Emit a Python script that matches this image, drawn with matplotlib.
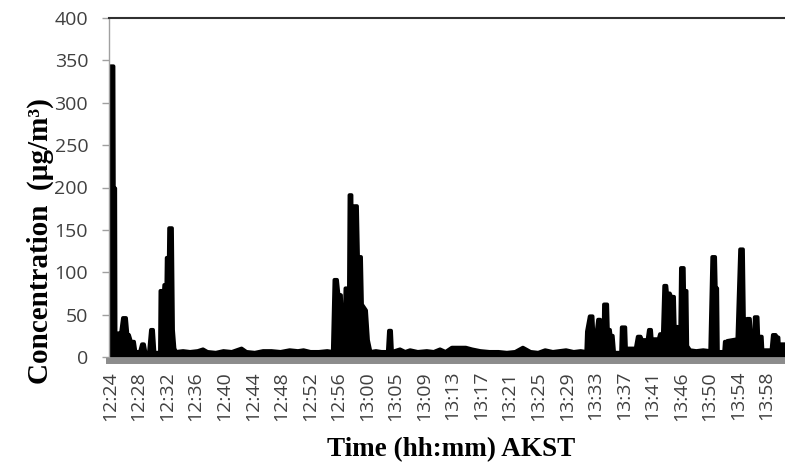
import matplotlib
matplotlib.use("Agg")
import matplotlib.pyplot as plt

# minutes after 12:24 AKST
time_min = [
    -0.07, 0.07, 0.5, 0.55, 0.75, 0.8, 1.0, 1.22, 1.58, 1.87,
    2.3, 2.51, 2.73, 3.02, 3.45, 3.66, 4.31, 4.6, 4.88, 5.1,
    5.6, 5.89, 6.18, 6.39, 7.18, 7.25, 7.75, 7.8, 8.1, 8.15,
    8.45, 8.5, 8.9,
    9.05, 9.26, 9.48,
    10.5, 11.5, 12.6, 13.36, 14.0, 15.2, 16.3, 17.5, 18.9, 19.6,
    20.8, 22.0, 23.2, 24.5, 25.8, 27.0, 27.8, 28.8, 30.0, 31.2, 32.0,
    32.24, 32.6, 32.82, 33.17, 33.32, 33.68, 33.82, 34.32, 34.4, 34.68,
    34.75, 35.04, 35.11, 35.47, 35.62, 36.05, 36.19, 36.77, 37.05, 37.41,
    38.2, 39.0, 39.9, 40.07, 40.36, 40.5,
    41.65, 42.4, 43.1, 44.2, 45.5, 46.5, 47.4, 48.2, 49.1, 50.0,
    51.1, 52.0, 53.2, 54.5, 55.8, 57.0, 58.2, 59.3, 60.4, 61.5,
    62.5, 63.6, 64.6, 65.5, 66.6, 67.6, 68.4,
    68.5, 68.9, 69.3, 69.4, 69.9, 70.1, 70.4, 70.5, 70.9, 70.95,
    71.4, 71.5, 71.8, 71.9, 72.2, 72.4, 73.4, 73.5, 74.0, 74.1,
    75.5, 75.8, 76.2, 76.4, 77.2, 77.4, 77.7, 77.8, 78.8, 78.99,
    79.4, 79.6, 79.9, 80.0, 80.4, 80.6, 81.0, 81.1, 81.9, 82.0,
    82.4, 82.45, 82.8, 82.9, 83.3, 84.2, 85.2, 86.2, 86.5, 86.9,
    87.0, 87.2, 87.3, 88.2, 88.3, 88.6, 88.7, 90.1, 90.5, 90.9,
    91.1, 91.5, 91.9, 92.1, 92.5, 92.6, 93.0, 93.1, 93.6, 93.7,
    95.0, 95.2, 95.6, 95.8, 96.0, 96.05, 96.94,
]

concentration = [
    73, 343, 343, 199, 199, 16, 16, 28, 28, 46,
    46, 26, 26, 18, 18, 6, 6, 15, 15, 5,
    5, 32, 32, 5, 5, 78, 78, 85, 85, 117,
    117, 152, 152,
    32, 10, 6,
    7, 6, 7, 9, 6, 5, 7, 6, 10, 6,
    5, 7, 7, 6, 8, 7, 8, 6, 6, 7, 6,
    91, 91, 73, 73, 34, 34, 81, 81, 191, 191,
    80, 80, 178, 178, 118, 118, 62, 55, 20, 6,
    7, 6, 6, 31, 31, 6,
    9, 6, 8, 6, 7, 6, 9, 6, 11, 11,
    11, 9, 7, 6, 6, 5, 6, 11, 6, 5,
    8, 6, 7, 8, 6, 7, 6,
    30, 48, 48, 30, 30, 44, 44, 32, 32, 62,
    62, 32, 32, 25, 25, 5, 5, 35, 35, 10,
    10, 24, 24, 20, 20, 32, 32, 21, 21, 27,
    27, 84, 84, 75, 75, 71, 71, 36, 35, 105,
    105, 78, 78, 13, 8, 7, 8, 7, 118, 118,
    81, 81, 6, 6, 18, 18, 19, 21, 127, 127,
    10, 45, 45, 18, 18, 47, 47, 24, 24, 8,
    8, 26, 26, 23, 23, 15, 15,
]
assert len(time_min) == len(concentration)

tick_labels = ["12:24", "12:28", "12:32", "12:36", "12:40", "12:44", "12:48",
               "12:52", "12:56", "13:00", "13:05", "13:09", "13:13", "13:17",
               "13:21", "13:25", "13:29", "13:33", "13:37", "13:41", "13:46",
               "13:50", "13:54", "13:58"]
tick_step_min = 4.1  # 246 s between labelled categories

y_ticks = [0, 50, 100, 150, 200, 250, 300, 350, 400]

fig = plt.figure(figsize=(7.85, 4.67), dpi=100)
ax = fig.add_axes([109 / 785, 110 / 467, 676 / 785, 339 / 467])

ax.fill_between(time_min, concentration, 0, color="black", linewidth=0)
ax.plot(time_min, concentration, color="black", lw=2.8,
        solid_joinstyle="round", solid_capstyle="round")

ax.set_xlim(-0.14, 96.94)
ax.set_ylim(0, 400)

ax.tick_params(axis="x", length=0, pad=7, labelrotation=90,
               labelsize=14, labelfontfamily="Open Sans", labelcolor="#404040")
ax.tick_params(axis="y", length=5, width=1, color="#a0a0a0", pad=10,
               labelsize=14, labelfontfamily="Open Sans", labelcolor="#404040")

ax.set_xticks([i * tick_step_min for i in range(len(tick_labels))])
ax.set_xticklabels(tick_labels)
ax.set_yticks(y_ticks)
ax.set_yticklabels([str(v) for v in y_ticks])

ax.spines["right"].set_visible(False)
ax.spines["left"].set_color("#a0a0a0")
ax.spines["left"].set_linewidth(1)
ax.spines["top"].set_color("#303030")
ax.spines["top"].set_linewidth(1.5)
ax.spines["bottom"].set_color("#8c8c8c")
ax.spines["bottom"].set_linewidth(4.3)
ax.spines["bottom"].set_position(("outward", 3))

fig.text(451 / 785, 1 - 450 / 467, "Time (hh:mm) AKST", ha="center",
         va="center", family="Liberation Serif", weight="bold", fontsize=19.5)
fig.text(40 / 785, 1 - 241 / 467, "Concentration  (µg/m³)", ha="center",
         va="center", rotation=90, family="Liberation Serif", weight="bold",
         fontsize=21)

fig.savefig("out.png", dpi=100)
